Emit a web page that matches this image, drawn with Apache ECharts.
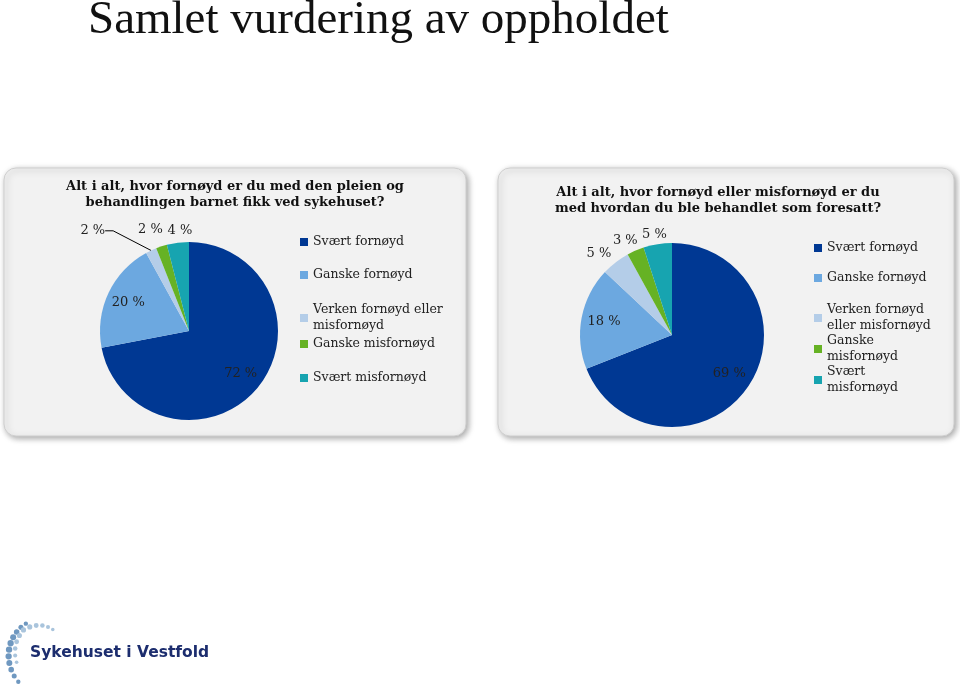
<!DOCTYPE html>
<html>
<head>
<meta charset="utf-8">
<script src="https://cdn.jsdelivr.net/npm/echarts@6/dist/echarts.min.js"></script>
<style>
html,body{margin:0;padding:0;background:#fff;}
#chart{width:960px;height:686px;}
</style>
</head>
<body>
<div id="chart"></div>
<script>
// ---- data ----
const categories = ['Svært fornøyd', 'Ganske fornøyd', 'Verken fornøyd eller misfornøyd', 'Ganske misfornøyd', 'Svært misfornøyd'];
const pleienValues = [72, 20, 2, 2, 4];
const foresattValues = [69, 18, 5, 3, 5];
const leftLegendLabels = ['Svært fornøyd', 'Ganske fornøyd', 'Verken fornøyd eller\nmisfornøyd', 'Ganske misfornøyd', 'Svært misfornøyd'];
const rightLegendLabels = ['Svært fornøyd', 'Ganske fornøyd', 'Verken fornøyd\neller misfornøyd', 'Ganske\nmisfornøyd', 'Svært\nmisfornøyd'];
const mainTitle = 'Samlet vurdering av oppholdet';
const leftTitle = 'Alt i alt, hvor fornøyd er du med den pleien og\nbehandlingen barnet fikk ved sykehuset?';
const rightTitle = 'Alt i alt, hvor fornøyd eller misfornøyd er du\nmed hvordan du ble behandlet som foresatt?';
const logoText = 'Sykehuset i Vestfold';

// ---- styles / layout ----
const palette = ['#003893', '#6ca8e0', '#b4cde8', '#66b224', '#17a4b0'];
const SERIF = '"DejaVu Serif", "Liberation Serif", serif';
const BIGSERIF = '"Liberation Serif", serif';
const leftPie = {center: [189, 331], r: 89, leaderIdx: 2};
const rightPie = {center: [672, 335], r: 92, leaderIdx: -1};
const leftLegendTops = [234, 267, 302, 336, 370];
const rightLegendTops = [240, 270, 302, 333, 364];
// small text nudges for labels: seriesIndex -> dataIndex -> [dx, dy]
const labelNudges = {1: {2: [-27, -7], 3: [10, -5], 4: [21, 0]}, 3: {2: [8, 1], 3: [12, 1], 4: [16, 2]}};

const chart = echarts.init(document.getElementById('chart'), null, {renderer: 'canvas'});

function pieSeries(values, cfg) {
  return {
    type: 'pie', center: cfg.center, radius: cfg.r, startAngle: 90, clockwise: true,
    label: {show: false}, labelLine: {show: false},
    itemStyle: {borderWidth: 0},
    emphasis: {disabled: true}, silent: true, animation: false,
    data: categories.map((c, i) => ({name: c, value: values[i]}))
  };
}
function labelSeries(values, cfg) {
  return {
    type: 'pie', center: cfg.center, radius: [cfg.r * 0.44, cfg.r], startAngle: 90, clockwise: true,
    avoidLabelOverlap: false,
    itemStyle: {color: 'rgba(0,0,0,0)', borderWidth: 0},
    label: {show: true, formatter: '{c} %', fontFamily: SERIF, fontSize: 13, color: '#222'},
    labelLine: {show: false, length: 12, length2: 0, smooth: false, lineStyle: {color: '#000', width: 1}},
    labelLayout: function (p) {
      const n = (labelNudges[p.seriesIndex] || {})[p.dataIndex];
      if (!n) return {};
      if (p.dataIndex === cfg.leaderIdx) {
        // move the label explicitly so that the guide line is re-routed to the slice
        return {x: p.labelRect.x + n[0], y: p.labelRect.y + p.labelRect.height / 2 + n[1], align: 'left', verticalAlign: 'middle'};
      }
      return {dx: n[0], dy: n[1]};
    },
    emphasis: {disabled: true}, silent: true, animation: false,
    data: categories.map((c, i) => {
      const item = {name: c, value: values[i], label: {position: values[i] >= 10 ? 'inside' : 'outside'}};
      if (i === cfg.leaderIdx) item.labelLine = {show: true, length: 14, length2: 8};
      return item;
    })
  };
}
function legends(labels, tops, left) {
  return categories.map((c, i) => ({
    data: [c], orient: 'vertical', left: left, top: tops[i], icon: 'rect', itemWidth: 8, itemHeight: 8,
    itemGap: 0, padding: 0, selectedMode: false,
    textStyle: {fontFamily: SERIF, fontSize: 12.5, color: '#222', lineHeight: 16},
    formatter: () => labels[i]
  }));
}

// decorative logo dots (two spiral arcs)
const dots = [];
for (let k = 0; k <= 10; k++) {
  const t = k / 10;
  const a = (128 + t * 97) * Math.PI / 180;
  const R = 36 + t * 6;
  dots.push({type: 'circle', shape: {cx: 48 + R * Math.cos(a), cy: 652 - R * Math.sin(a), r: 2.2 + 1.0 * Math.sin(t * Math.PI)}, style: {fill: '#6f98c0'}});
}
for (let k = 0; k <= 10; k++) {
  const t = k / 10;
  const a = (78 + t * 120) * Math.PI / 180;
  const R = 23 + Math.min(t * 2, 1) * 10;
  dots.push({type: 'circle', shape: {cx: 48 + R * Math.cos(a), cy: 652 - R * Math.sin(a), r: 1.8 + 0.8 * Math.sin(t * Math.PI)}, style: {fill: '#a9c4dc'}});
}

const panelStyle = {fill: '#f2f2f2', stroke: '#cfcfcf', lineWidth: 1, shadowBlur: 6, shadowColor: 'rgba(0,0,0,0.35)', shadowOffsetX: 2, shadowOffsetY: 2};

chart.setOption({
  color: palette,
  animation: false,
  graphic: [
    {type: 'rect', z: -10, shape: {x: 4, y: 168, width: 462, height: 268, r: 12}, style: panelStyle},
    {type: 'rect', z: -10, shape: {x: 498, y: 168, width: 456, height: 268, r: 12}, style: panelStyle},
    {type: 'text', left: 30, top: 645, style: {text: logoText, font: 'bold 15.5px "DejaVu Sans", sans-serif', fill: '#1c2d6e'}}
  ].concat(dots),
  title: [
    {text: mainTitle, left: 88, top: 0, padding: 0, textStyle: {fontFamily: BIGSERIF, fontSize: 47, fontWeight: 'normal', color: '#111', lineHeight: 42}},
    {text: leftTitle, left: 235, top: 179, textAlign: 'center', padding: 0, textStyle: {fontFamily: SERIF, fontSize: 13, fontWeight: 'bold', color: '#111', lineHeight: 16}},
    {text: rightTitle, left: 718, top: 185, textAlign: 'center', padding: 0, textStyle: {fontFamily: SERIF, fontSize: 13, fontWeight: 'bold', color: '#111', lineHeight: 16}}
  ],
  legend: legends(leftLegendLabels, leftLegendTops, 300).concat(legends(rightLegendLabels, rightLegendTops, 814)),
  series: [
    pieSeries(pleienValues, leftPie),
    labelSeries(pleienValues, leftPie),
    pieSeries(foresattValues, rightPie),
    labelSeries(foresattValues, rightPie)
  ]
});
</script>
</body>
</html>
